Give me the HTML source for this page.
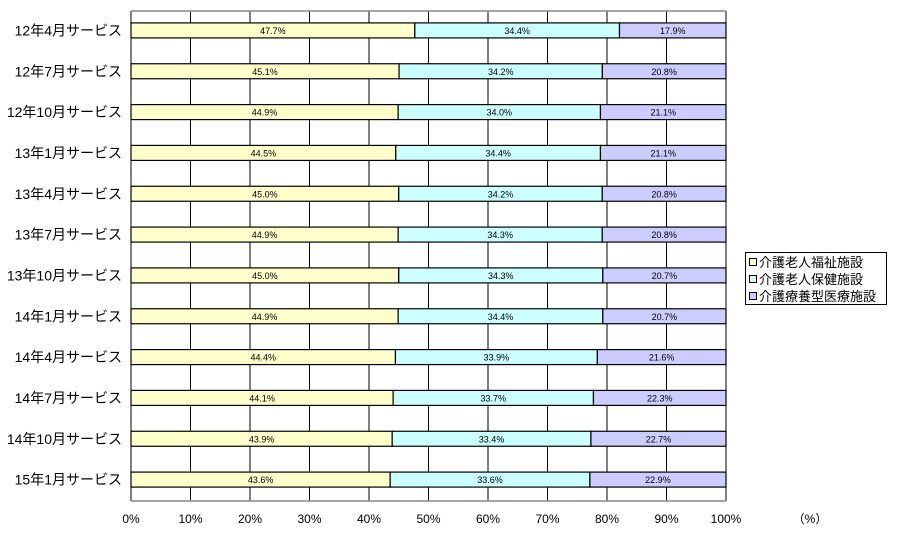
<!DOCTYPE html>
<html><head><meta charset="utf-8"><style>
body{margin:0;background:#fff;font-family:"Liberation Sans","Noto Sans CJK JP",sans-serif;}
svg text{font-family:"Liberation Sans","Noto Sans CJK JP",sans-serif;}
</style></head><body>
<svg id="c" width="897" height="537" xmlns="http://www.w3.org/2000/svg"></svg>
<script>
const categories=["12年4月サービス","12年7月サービス","12年10月サービス","13年1月サービス","13年4月サービス","13年7月サービス","13年10月サービス","14年1月サービス","14年4月サービス","14年7月サービス","14年10月サービス","15年1月サービス"];
const welfare=[47.7,45.1,44.9,44.5,45.0,44.9,45.0,44.9,44.4,44.1,43.9,43.6];
const health=[34.4,34.2,34.0,34.4,34.2,34.3,34.3,34.4,33.9,33.7,33.4,33.6];
const medical=[17.9,20.8,21.1,21.1,20.8,20.8,20.7,20.7,21.6,22.3,22.7,22.9];
const ticks=[0,10,20,30,40,50,60,70,80,90,100];
const seriesNames=["介護老人福祉施設","介護老人保健施設","介護療養型医療施設"];
const colors=["#ffffcc","#ccffff","#ccccff"];
const L=131,R=726,T=11,B=501;
const x=v=>L+(R-L)*v/100;
const band=(B-T)/categories.length;
const yc=i=>T+band*i+band/2-1;
const svg=document.getElementById('c');
function mk(tag,attrs,txt){const e=document.createElementNS('http://www.w3.org/2000/svg',tag);for(const k in attrs)e.setAttribute(k,attrs[k]);if(txt!==undefined)e.textContent=txt;svg.appendChild(e);return e;}
let e=mk('rect',{x:L,y:T,width:R-L,height:B-T,fill:'#fff',stroke:'none'});


ticks.forEach(t=>{
 const g=mk('line',{x1:x(t),x2:x(t),y1:T,y2:B,stroke:'#000','stroke-width':1});
 
 
 const l=mk('text',{x:x(t),y:523,'font-size':12,'text-anchor':'middle'},t+'%');
 
 
});
e=mk('line',{x1:L,x2:R,y1:T,y2:T,stroke:'#888','stroke-width':1.5});


e=mk('line',{x1:L,x2:R,y1:B,y2:B,stroke:'#888','stroke-width':1.5});


e=mk('text',{x:810,y:523,'font-size':12,'text-anchor':'middle'},'（%）');


categories.forEach((c,i)=>{
 const yy=yc(i);
 const lab=mk('text',{x:122,y:yy+5,'font-size':14,'text-anchor':'end'},c);
 
 
 const vals=[welfare[i],health[i],medical[i]];
 const tot=vals.reduce((a,b)=>a+b,0);
 let acc=0;
 vals.forEach((v,s)=>{
  const a0=acc*100/tot,a1=(acc+v)*100/tot;
  const r=mk('rect',{x:x(a0),y:yy-7.5,width:x(a1)-x(a0),height:15,fill:colors[s],stroke:'#000','stroke-width':1.2});
  
  
  const t=mk('text',{x:(x(a0)+x(a1))/2,y:yy+3.5,'font-size':9,'text-anchor':'middle'},v.toFixed(1)+'%');
  
  
  acc+=v;
 });
});
e=mk('rect',{x:745.5,y:252.5,width:141,height:52,fill:'#fff',stroke:'#000'});


seriesNames.forEach((n,s)=>{
 const yy=262+s*17;
 const sw=mk('rect',{x:749.5,y:yy-3.5,width:7,height:7,fill:colors[s],stroke:'#000'});
 
 
 const t=mk('text',{x:759,y:yy+5,'font-size':13},n);
 
 
});
</script>
</body></html>
